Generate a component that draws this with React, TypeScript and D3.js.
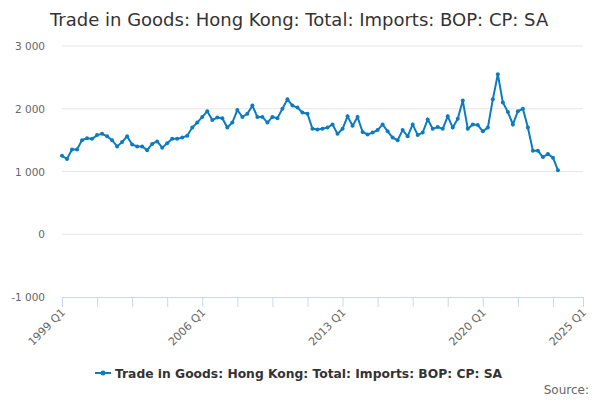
import { useEffect, useRef } from "react";
import * as d3 from "d3";

const START_YEAR = 1999;
const values: number[] = [
  1250, 1200, 1350, 1350, 1500, 1530, 1520, 1580, 1600, 1560,
  1500, 1400, 1470, 1560, 1430, 1400, 1400, 1340, 1440, 1480,
  1380, 1450, 1520, 1520, 1540, 1570, 1700, 1780, 1870, 1960,
  1820, 1860, 1850, 1700, 1780, 1980, 1870, 1920, 2050, 1870,
  1870, 1780, 1870, 1850, 2000, 2150, 2050, 2020, 1940, 1920,
  1680, 1670, 1680, 1700, 1750, 1600, 1680, 1880, 1730, 1870,
  1630, 1590, 1620, 1660, 1750, 1640, 1540, 1500, 1660, 1560,
  1750, 1580, 1620, 1830, 1680, 1710, 1680, 1880, 1700, 1840,
  2130, 1680, 1750, 1740, 1640, 1700, 2150, 2550, 2100, 1950,
  1750, 1960, 2000, 1700, 1330, 1330, 1230, 1280, 1220, 1020,
];
const yTicks = [-1000, 0, 1000, 2000, 3000];
const xTicks = [0, 7, 14, 21, 28, 35, 42, 49, 56, 63, 70, 77, 84, 91, 98, 104];
const xLabels = [0, 28, 56, 84, 104];
const TITLE = "Trade in Goods: Hong Kong: Total: Imports: BOP: CP: SA";
const BLUE = "#0c7bc0";
const FONT = "'DejaVu Sans', Verdana, sans-serif";

function quarterLabel(i: number): string {
  return `${START_YEAR + Math.floor(i / 4)} Q${(i % 4) + 1}`;
}

function fmt(v: number): string {
  const s = Math.abs(v) >= 1000
    ? `${Math.floor(Math.abs(v) / 1000)} ${String(Math.abs(v) % 1000).padStart(3, "0")}`
    : String(Math.abs(v));
  return v < 0 ? `-${s}` : s;
}

export default function App() {
  const svgRef = useRef<SVGSVGElement>(null);

  useEffect(() => {
    const svg = d3.select(svgRef.current!);
    svg.selectAll("*").remove();
    const left = 62, right = 583, top = 46, bottom = 297;

    const x = d3.scaleLinear().domain([0, 104]).range([left, right]);
    const y = d3.scaleLinear().domain([-1000, 3000]).range([bottom, top]);

    svg.append("text").attr("x", 50).attr("y", 26)
      .attr("font-size", 18).attr("fill", "#333").attr("font-family", FONT)
      .text(TITLE);

    const grid = svg.append("g");
    grid.selectAll("line").data(yTicks.filter((t) => t > -1000)).enter().append("line")
      .attr("x1", left).attr("x2", right)
      .attr("y1", (d) => y(d)).attr("y2", (d) => y(d))
      .attr("stroke", "#e6e6e6");
    grid.selectAll("text").data(yTicks).enter().append("text")
      .attr("x", left - 17).attr("y", (d) => y(d) + 4)
      .attr("text-anchor", "end").attr("font-size", 10.5).attr("fill", "#666")
      .attr("font-family", FONT)
      .text((d) => fmt(d));

    svg.append("line").attr("x1", left).attr("x2", right)
      .attr("y1", bottom + 0.5).attr("y2", bottom + 0.5).attr("stroke", "#ccd6eb");
    svg.append("g").selectAll("line").data(xTicks).enter().append("line")
      .attr("x1", (d) => x(d) + 0.5).attr("x2", (d) => x(d) + 0.5)
      .attr("y1", bottom).attr("y2", bottom + 10).attr("stroke", "#ccd6eb");
    svg.append("g").selectAll("text").data(xLabels).enter().append("text")
      .attr("transform", (d) => `translate(${x(d) + 4},${bottom + 16}) rotate(-45)`)
      .attr("text-anchor", "end").attr("font-size", 11).attr("fill", "#666")
      .attr("font-family", FONT)
      .text((d) => quarterLabel(d));

    const line = d3.line<number>().x((_, i) => x(i)).y((d) => y(d));
    svg.append("path").datum(values).attr("d", line)
      .attr("fill", "none").attr("stroke", BLUE).attr("stroke-width", 2);
    svg.append("g").selectAll("circle").data(values).enter().append("circle")
      .attr("cx", (_, i) => x(i)).attr("cy", (d) => y(d)).attr("r", 2).attr("fill", BLUE);

    const lg = svg.append("g").attr("transform", "translate(95,373)");
    lg.append("line").attr("x1", 0).attr("x2", 16).attr("y1", 0).attr("y2", 0)
      .attr("stroke", BLUE).attr("stroke-width", 2);
    lg.append("circle").attr("cx", 8).attr("cy", 0).attr("r", 2.5).attr("fill", BLUE);
    lg.append("text").attr("x", 20).attr("y", 4.5).attr("font-size", 12.3)
      .attr("font-weight", "bold").attr("fill", "#333").attr("font-family", FONT)
      .text(TITLE);

    svg.append("text").attr("x", 589).attr("y", 394).attr("text-anchor", "end")
      .attr("font-size", 12).attr("fill", "#666").attr("font-family", FONT)
      .text("Source:");
  }, []);

  return (
    <svg ref={svgRef} width={600} height={400}
      style={{ position: "absolute", left: 0, top: 0, background: "#fff" }} />
  );
}
